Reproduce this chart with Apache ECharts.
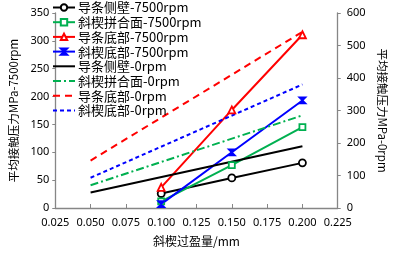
<!DOCTYPE html>
<html><head><meta charset="utf-8">
<script src="https://cdn.jsdelivr.net/npm/echarts@6/dist/echarts.min.js"></script>
<style>html,body{margin:0;padding:0;background:#fff}#c{width:396px;height:253px}</style>
</head><body><div id="c"></div>
<script>
// x positions (斜楔过盈量/mm)
const x7500 = [0.10, 0.15, 0.20];
const x0 = [0.05, 0.20];
// 7500 rpm series (left axis)
const ceBi7500 = [26, 54, 81];
const pinHe7500 = [12, 77, 145];
const daoDi7500 = [37, 176, 311];
const xieDi7500 = [7, 100, 193];
// 0 rpm series (right axis)
const ceBi0 = [48, 190];
const pinHe0 = [70, 285];
const daoDi0 = [146, 542];
const xieDi0 = [93, 380];
const names = ['导条侧壁-7500rpm','斜楔拼合面-7500rpm','导条底部-7500rpm','斜楔底部-7500rpm','导条侧壁-0rpm','斜楔拼合面-0rpm','导条底部-0rpm','斜楔底部-0rpm'];
const xTicks = {min:0.025, max:0.225, step:0.025};
const yLeft = {min:0, max:350, step:50};
const yRight = {min:0, max:600, step:100};

const pair = (xs, ys) => xs.map((x,i)=>[x, ys[i]]);
const numFont = "'Liberation Sans Narrow','Noto Sans',sans-serif";
const cjk = "'Noto Sans CJK SC',sans-serif";
const axisGray = '#868686';
const hourglass = 'path://M0,0 L10,0 L0,10 L10,10 Z';

function s7500(name, ys, color, symbol, size){
  return {name, type:'line', yAxisIndex:0, data:pair(x7500, ys), symbol, symbolSize:size,
    showAllSymbol:true, lineStyle:{color, width:2}, itemStyle:{color: symbol===hourglass?color:'#fff', borderColor:color, borderWidth:1.8}, z:3};
}
function s0(name, ys, color, type){
  return {name, type:'line', yAxisIndex:1, data:pair(x0, ys), symbol:'none', lineStyle:{color, width:2, type}, itemStyle:{color}};
}
const legendData = names.map((n,i)=> i<4 ? {name:n} : {name:n, itemStyle:{opacity:0}});
const chart = echarts.init(document.getElementById('c'), null, {renderer:'canvas'});
chart.setOption({
  animation:false,
  grid:{left:44, right:53, top:13, bottom:45},
  legend:{show:true, left:52, top:1, padding:0, orient:'vertical', itemWidth:22, itemHeight:8, itemGap:1.7,
    textStyle:{fontFamily:cjk, fontSize:13, color:'#000', lineHeight:13, padding:[0,0,0,-2]},
    data:legendData},
  xAxis:{type:'value', min:xTicks.min, max:xTicks.max, interval:xTicks.step,
    name:'斜楔过盈量/mm', nameLocation:'middle', nameGap:27, nameTextStyle:{fontFamily:cjk, fontSize:12, color:'#000'},
    axisLine:{lineStyle:{color:axisGray, width:1.3}}, axisTick:{inside:true, length:4, lineStyle:{color:axisGray}},
    axisLabel:{formatter:v=>v.toFixed(3), fontFamily:numFont, fontSize:11, color:'#000', margin:9},
    splitLine:{show:false}},
  yAxis:[
    {type:'value', min:yLeft.min, max:yLeft.max, interval:yLeft.step, position:'left',
     name:'平均接触压力MPa-7500rpm', nameLocation:'middle', nameGap:28, nameTextStyle:{fontFamily:cjk, fontSize:11.5, color:'#000'},
     axisLine:{show:true, lineStyle:{color:axisGray, width:1.3}}, axisTick:{show:true, length:3, lineStyle:{color:axisGray}},
     axisLabel:{fontFamily:numFont, fontSize:11, color:'#000', margin:6}, splitLine:{show:false}},
    {type:'value', min:yRight.min, max:yRight.max, interval:yRight.step, position:'right',
     name:'平均接触压力MPa-0rpm', nameLocation:'middle', nameGap:36, nameRotate:-90, nameTextStyle:{fontFamily:cjk, fontSize:11.5, color:'#000'},
     axisLine:{show:true, lineStyle:{color:axisGray, width:1.3}}, axisTick:{show:true, length:3, lineStyle:{color:axisGray}},
     axisLabel:{fontFamily:numFont, fontSize:11, color:'#000', margin:9}, splitLine:{show:false}}
  ],
  series:[
    s7500(names[0], ceBi7500, '#000000', 'circle', 7),
    s7500(names[1], pinHe7500, '#00B050', 'rect', 6),
    s7500(names[2], daoDi7500, '#FF0000', 'triangle', 7),
    s7500(names[3], xieDi7500, '#0000FF', hourglass, 6),
    s0(names[4], ceBi0, '#000000', 'solid'),
    s0(names[5], pinHe0, '#00B050', [8,3,2,3]),
    s0(names[6], daoDi0, '#FF0000', [7,5]),
    s0(names[7], xieDi0, '#0000FF', [4,3])
  ]
});
</script></body></html>
